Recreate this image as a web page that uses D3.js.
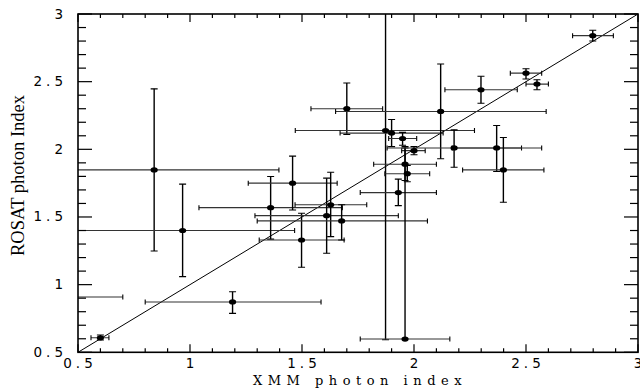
<!DOCTYPE html>
<html><head><meta charset="utf-8">
<script src="https://cdn.jsdelivr.net/npm/d3@7"></script>
<style>html,body{margin:0;padding:0;background:#fff;}svg{display:block;}</style>
</head><body>
<script>
// XMM photon index (x) with error range
const xmm    = [0.60, 0.84, 0.967, 1.19, 0.30, 1.36, 1.458, 1.498, 1.61, 1.628, 1.677, 1.70, 1.873, 1.90, 1.949, 2.00, 1.93, 1.96, 1.97, 1.96, 2.119, 2.179, 2.299, 2.369, 2.399, 2.50, 2.549, 2.798];
const xmmLo  = [0.558, 0.28, 0.467, 0.80, -0.10, 1.04, 1.26, 1.309, 1.29, 1.469, 1.30, 1.54, 1.47, 1.67, 1.887, 1.945, 1.76, 1.82, 1.87, 1.76, 1.65, 1.88, 2.138, 2.17, 2.217, 2.43, 2.50, 2.708];
const xmmHi  = [0.638, 1.397, 1.467, 1.585, 0.70, 1.68, 1.657, 1.688, 1.93, 1.789, 2.06, 1.86, 2.27, 2.13, 2.012, 2.05, 2.10, 2.10, 2.07, 2.16, 2.59, 2.48, 2.461, 2.57, 2.58, 2.57, 2.60, 2.89];
// ROSAT photon index (y) with error range
const rosat   = [0.607, 1.848, 1.40, 0.872, 0.909, 1.569, 1.75, 1.33, 1.51, 1.59, 1.471, 2.30, 2.139, 2.12, 2.08, 1.99, 1.68, 1.89, 1.82, 0.598, 2.28, 2.01, 2.44, 2.01, 1.848, 2.563, 2.482, 2.84];
const rosatLo = [0.591, 1.249, 1.059, 0.788, 0.85, 1.336, 1.552, 1.129, 1.232, 1.355, 1.33, 2.11, 0.593, 2.02, 2.03, 1.96, 1.584, 1.77, 1.76, 0.598, 1.93, 1.868, 2.34, 1.836, 1.609, 2.52, 2.44, 2.80];
const rosatHi = [0.628, 2.447, 1.743, 0.948, 0.97, 1.799, 1.95, 1.528, 1.787, 1.83, 1.59, 2.49, 3.69, 2.22, 2.125, 2.02, 1.78, 2.01, 1.88, 2.02, 2.63, 2.144, 2.54, 2.176, 2.087, 2.595, 2.514, 2.88];
const majorTicks = [0.5, 1, 1.5, 2, 2.5, 3];
const tickLabels = ["0.5", "1", "1.5", "2", "2.5", "3"];
const xTitle = "XMM photon index";
const yTitle = "ROSAT photon Index";

const W = 640, H = 390;
const L = 78, R = 638, T = 14, B = 352.3;
const x = d3.scaleLinear().domain([0.5, 3]).range([L, R]);
const y = d3.scaleLinear().domain([0.5, 3]).range([B, T]);

const svg = d3.select("body").append("svg").attr("width", W).attr("height", H);
svg.append("defs").append("clipPath").attr("id", "clip")
  .append("rect").attr("x", L).attr("y", T).attr("width", R - L).attr("height", B - T);

const data = xmm.map((v, i) => ({x: v, xl: xmmLo[i], xh: xmmHi[i], y: rosat[i], yl: rosatLo[i], yh: rosatHi[i]}));

const g = svg.append("g").attr("clip-path", "url(#clip)");

// diagonal 1:1 line
g.append("line").attr("x1", x(0.5)).attr("y1", y(0.5)).attr("x2", x(3)).attr("y2", y(3))
  .attr("stroke", "#000").attr("stroke-width", 1);

const eb = g.append("g").attr("stroke", "#000").attr("stroke-width", 1.1).attr("fill", "none");
data.forEach(d => {
  eb.append("line").attr("x1", x(d.xl)).attr("x2", x(d.xh)).attr("y1", y(d.y)).attr("y2", y(d.y)).attr("stroke", "#333");
  eb.append("line").attr("x1", x(d.xl)).attr("x2", x(d.xl)).attr("y1", y(d.y) - 2.5).attr("y2", y(d.y) + 2.5);
  eb.append("line").attr("x1", x(d.xh)).attr("x2", x(d.xh)).attr("y1", y(d.y) - 2.5).attr("y2", y(d.y) + 2.5);
  eb.append("line").attr("x1", x(d.x)).attr("x2", x(d.x)).attr("y1", y(d.yl)).attr("y2", y(d.yh)).attr("stroke-width", 1.4);
  if (d.yl < d.y) eb.append("line").attr("x1", x(d.x) - 3.5).attr("x2", x(d.x) + 3.5).attr("y1", y(d.yl)).attr("y2", y(d.yl));
  eb.append("line").attr("x1", x(d.x) - 3.5).attr("x2", x(d.x) + 3.5).attr("y1", y(d.yh)).attr("y2", y(d.yh));
});
g.append("g").selectAll("ellipse").data(data).join("ellipse")
  .attr("cx", d => x(d.x)).attr("cy", d => y(d.y)).attr("rx", 3.6).attr("ry", 2.6).attr("fill", "#000");

// ticks
const minor = d3.range(5, 31).map(v => v / 10);
const isMajor = v => Math.abs(v * 2 - Math.round(v * 2)) < 1e-6;
const tk = svg.append("g").attr("stroke", "#000").attr("stroke-width", 1.2);
minor.forEach(v => {
  const mx = isMajor(v) ? 8 : 4, my = isMajor(v) ? 14 : 8;
  tk.append("line").attr("x1", x(v)).attr("x2", x(v)).attr("y1", B).attr("y2", B - mx);
  tk.append("line").attr("x1", x(v)).attr("x2", x(v)).attr("y1", T).attr("y2", T + mx);
  tk.append("line").attr("y1", y(v)).attr("y2", y(v)).attr("x1", L).attr("x2", L + my);
  tk.append("line").attr("y1", y(v)).attr("y2", y(v)).attr("x1", R).attr("x2", R - my);
});
// frame
svg.append("rect").attr("x", L).attr("y", T).attr("width", R - L).attr("height", B - T)
  .attr("fill", "none").attr("stroke", "#000").attr("stroke-width", 1.6);

// tick labels
const fontTick = "DejaVu Sans";
svg.append("g").selectAll("text").data(majorTicks).join("text")
  .attr("x", d => x(d) + 2).attr("y", B + 16).attr("text-anchor", "middle")
  .attr("font-family", fontTick).attr("font-size", 13.5).attr("letter-spacing", 4)
  .text((d, i) => tickLabels[i]);
svg.append("g").selectAll("text").data(majorTicks).join("text")
  .attr("x", L - 11).attr("y", d => y(d) + 4.5).attr("text-anchor", "end")
  .attr("font-family", fontTick).attr("font-size", 13.5).attr("letter-spacing", 4)
  .text((d, i) => tickLabels[i]);

// axis titles
svg.append("text").attr("x", 360).attr("y", 384.5).attr("text-anchor", "middle")
  .attr("font-family", "DejaVu Serif").attr("font-size", 13).attr("letter-spacing", 5.5)
  .text(xTitle);
svg.append("text").attr("transform", "translate(24,175.5) rotate(-90)").attr("text-anchor", "middle")
  .attr("font-family", "Liberation Serif").attr("font-size", 18.5)
  .text(yTitle);
</script>
</body></html>
